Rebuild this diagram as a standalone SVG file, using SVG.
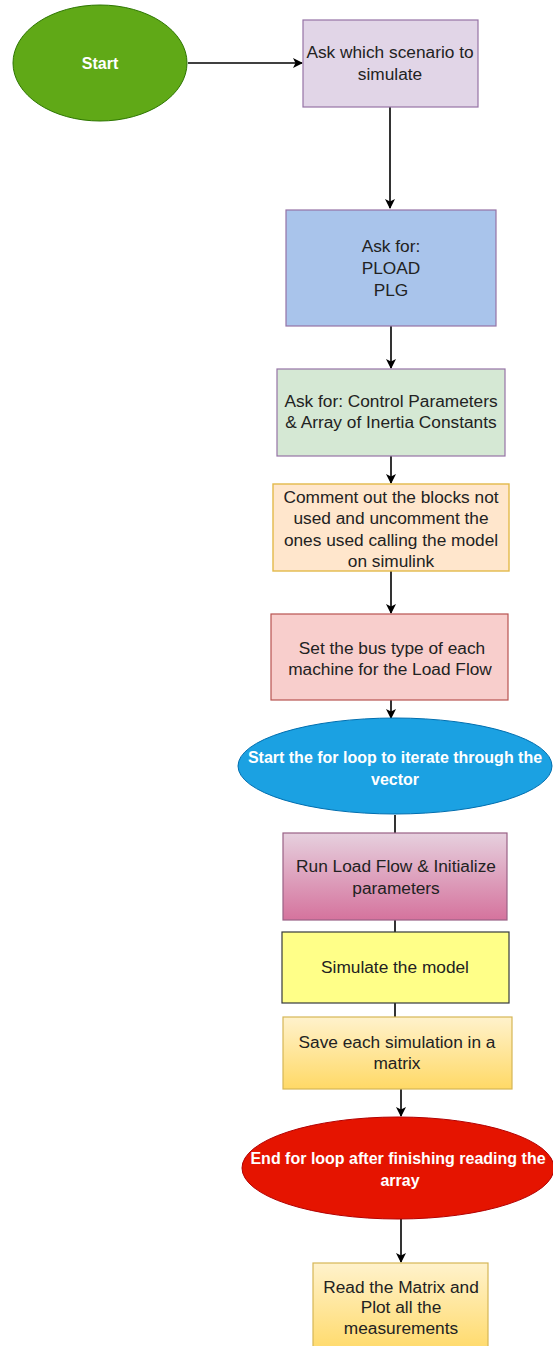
<svg xmlns="http://www.w3.org/2000/svg" width="553" height="1346" viewBox="0 0 553 1346">
<style>
.t{font-family:"Liberation Sans",Arial,sans-serif;font-size:17.3px;fill:#222;text-anchor:middle}
.w{font-family:"Liberation Sans",Arial,sans-serif;font-size:16px;font-weight:bold;fill:#fff;text-anchor:middle}
.c{stroke:#000;stroke-width:1.6;fill:none}
</style>
<defs>
<marker id="ah" markerWidth="10" markerHeight="10" refX="9" refY="5" orient="auto" markerUnits="userSpaceOnUse">
<path d="M0,0 L10,5 L0,10 L2.5,5 Z" fill="#000"/>
</marker>
<linearGradient id="gPink" x1="0" y1="0" x2="0" y2="1"><stop offset="0" stop-color="#e6d0de"/><stop offset="1" stop-color="#d5739d"/></linearGradient>
<linearGradient id="gYel" x1="0" y1="0" x2="0" y2="1"><stop offset="0" stop-color="#fff2cc"/><stop offset="1" stop-color="#ffd966"/></linearGradient>
</defs>
<g id="connectors">
<line class="c" x1="188" y1="63" x2="302" y2="63" marker-end="url(#ah)"/>
<line class="c" x1="390" y1="107" x2="390" y2="208" marker-end="url(#ah)"/>
<line class="c" x1="391" y1="326" x2="391" y2="368" marker-end="url(#ah)"/>
<line class="c" x1="391" y1="456" x2="391" y2="483" marker-end="url(#ah)"/>
<line class="c" x1="391" y1="571" x2="391" y2="613" marker-end="url(#ah)"/>
<line class="c" x1="391" y1="700" x2="391" y2="718" marker-end="url(#ah)"/>
<line class="c" x1="395" y1="815" x2="395" y2="833" stroke="#666"/>
<line class="c" x1="395" y1="920" x2="395" y2="932" stroke="#666"/>
<line class="c" x1="395" y1="1003" x2="395" y2="1017" stroke="#666"/>
<line class="c" x1="401" y1="1089" x2="401" y2="1116" marker-end="url(#ah)"/>
<line class="c" x1="401" y1="1219" x2="401" y2="1262" marker-end="url(#ah)"/>
</g>
<g id="start">
<ellipse cx="100" cy="63" rx="87" ry="58" fill="#60a917" stroke="#2d7600"/>
<text class="w" x="100" y="69">Start</text>
</g>
<g id="scenario">
<rect x="303" y="20" width="175" height="87" fill="#e1d5e7" stroke="#9673a6" stroke-width="1.2"/>
<text class="t" x="390" y="58">Ask which scenario to</text>
<text class="t" x="390" y="80">simulate</text>
</g>
<g id="askload">
<rect x="286" y="210" width="210" height="116" fill="#a9c4eb" stroke="#9673a6" stroke-width="1.2"/>
<text class="t" x="391" y="252">Ask for:</text>
<text class="t" x="391" y="274">PLOAD</text>
<text class="t" x="391" y="296">PLG</text>
</g>
<g id="askcontrol">
<rect x="277" y="369" width="228" height="87" fill="#d5e8d4" stroke="#9673a6" stroke-width="1.2"/>
<text class="t" x="391" y="407">Ask for: Control Parameters</text>
<text class="t" x="391" y="428">&amp; Array of Inertia Constants</text>
</g>
<g id="comment">
<rect x="273" y="484" width="236" height="87" fill="#ffe6cc" stroke="#e3b94a" stroke-width="1.4"/>
<text class="t" x="391" y="503">Comment out the blocks not</text>
<text class="t" x="391" y="524">used and uncomment the</text>
<text class="t" x="391" y="546">ones used calling the model</text>
<text class="t" x="391" y="567">on simulink</text>
</g>
<g id="bustype">
<rect x="271" y="614" width="237" height="86" fill="#f8cecc" stroke="#b85450" stroke-width="1.2"/>
<text class="t" x="392" y="654">Set the bus type of each</text>
<text class="t" x="390" y="675">machine for the Load Flow</text>
</g>
<g id="loopstart">
<ellipse cx="395" cy="766" rx="157" ry="48" fill="#1ba1e2" stroke="#006eaf"/>
<text class="w" x="395" y="763">Start the for loop to iterate through the</text>
<text class="w" x="395" y="785">vector</text>
</g>
<g id="loadflow">
<rect x="283" y="833" width="224" height="87" fill="url(#gPink)" stroke="#996185" stroke-width="1.2"/>
<text class="t" x="396" y="872">Run Load Flow &amp; Initialize</text>
<text class="t" x="396" y="894">parameters</text>
</g>
<g id="simulate">
<rect x="282" y="932" width="227" height="71" fill="#ffff88" stroke="#36393d" stroke-width="1.2"/>
<text class="t" x="395" y="973">Simulate the model</text>
</g>
<g id="save">
<rect x="283" y="1017" width="229" height="72" fill="url(#gYel)" stroke="#d6b656" stroke-width="1.2"/>
<text class="t" x="397" y="1048">Save each simulation in a</text>
<text class="t" x="397" y="1069">matrix</text>
</g>
<g id="loopend">
<ellipse cx="398" cy="1168" rx="156" ry="51" fill="#e51400" stroke="#b20000"/>
<text class="w" x="398" y="1164">End for loop after finishing reading the</text>
<text class="w" x="400" y="1186">array</text>
</g>
<g id="plot">
<rect x="313" y="1263" width="175" height="92" fill="url(#gYel)" stroke="#d6b656" stroke-width="1.2"/>
<text class="t" x="401" y="1293">Read the Matrix and</text>
<text class="t" x="401" y="1313">Plot all the</text>
<text class="t" x="401" y="1334">measurements</text>
</g>
</svg>
